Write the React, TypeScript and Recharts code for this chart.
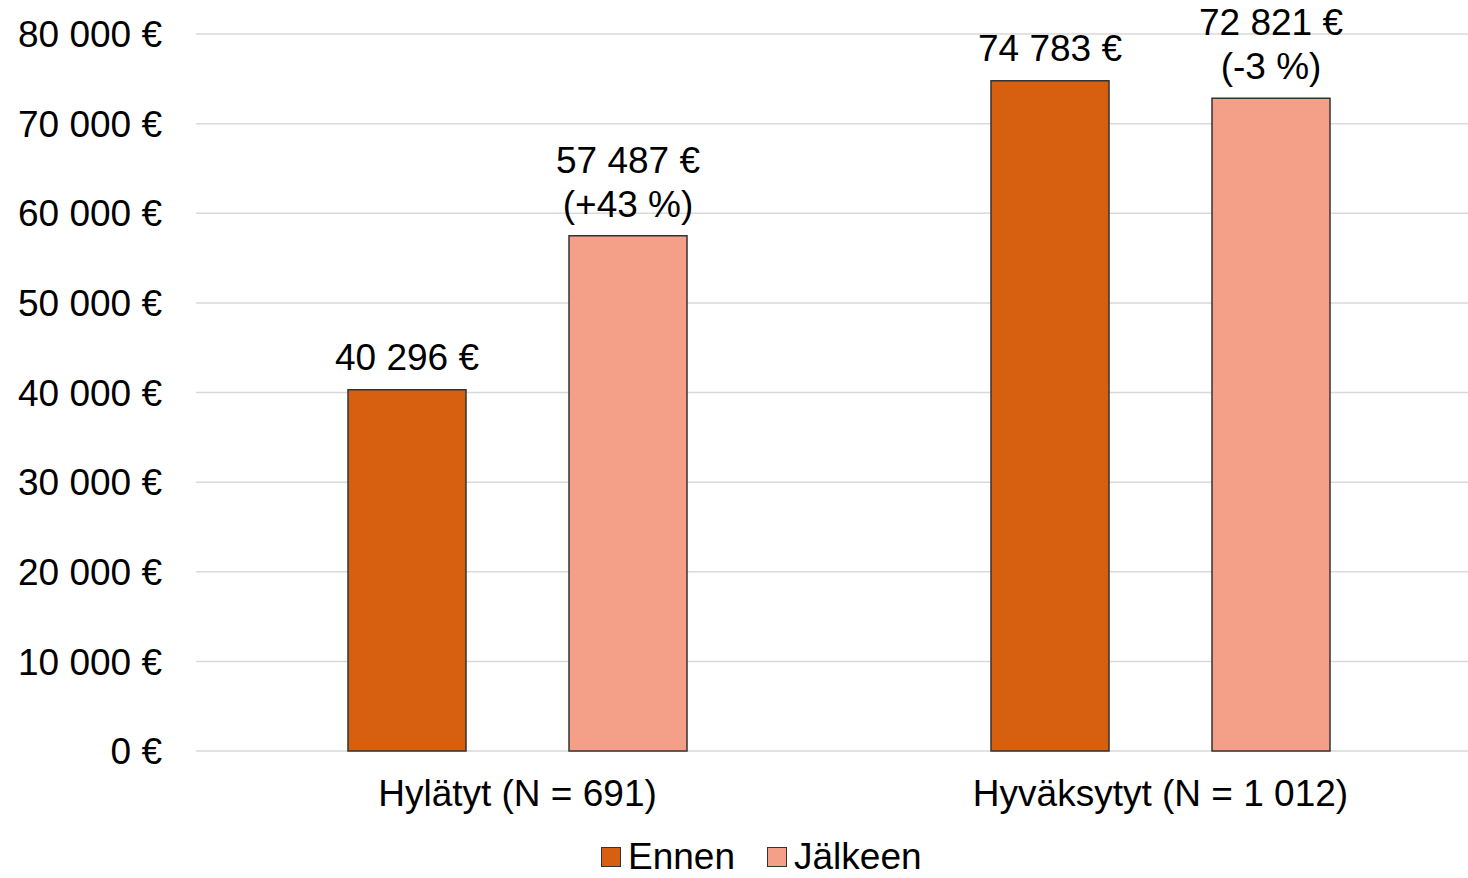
import { BarChart, Bar, XAxis, YAxis, CartesianGrid, LabelList } from 'recharts'

const categories = ['Hylätyt (N = 691)', 'Hyväksytyt (N = 1 012)']
const ennen = [40296, 74783]
const jalkeen = [57487, 72821]
const muutos = ['(+43 %)', '(-3 %)']
const yTicks = [0, 10000, 20000, 30000, 40000, 50000, 60000, 70000, 80000]

const SERIES = [
  { key: 'Ennen', color: '#d65f10' },
  { key: 'Jälkeen', color: '#f4a088' },
] as const

const data = categories.map((name, i) => ({
  name,
  Ennen: ennen[i],
  Jälkeen: jalkeen[i],
  muutos: muutos[i],
}))

const FONT = 'Liberation Sans, Arial, sans-serif'
const FS = 37

const euro = (v: number) =>
  `${v.toLocaleString('en-US').replace(/,/g, ' ')} €`

function ValueLabel(props: any) {
  const { x, y, width, value, index, withChange } = props
  const cx = x + width / 2
  if (withChange) {
    return (
      <text x={cx} textAnchor="middle" fontSize={FS} fill="#000" fontFamily={FONT}>
        <tspan x={cx} y={y - 63}>{euro(value)}</tspan>
        <tspan x={cx} y={y - 19}>{data[index].muutos}</tspan>
      </text>
    )
  }
  return (
    <text x={cx} y={y - 20} textAnchor="middle" fontSize={FS} fill="#000" fontFamily={FONT}>
      {euro(value)}
    </text>
  )
}

export default function App() {
  return (
    <div style={{ position: 'absolute', left: 0, top: 0, width: 1468, height: 878, overflow: 'hidden', background: '#fff', fontFamily: FONT }}>
      <BarChart
        width={1482}
        height={878}
        data={data}
        margin={{ top: 34, right: 0, left: 0, bottom: 97 }}
        barGap={103}
        barSize={118}
      >
        <CartesianGrid vertical={false} stroke="#d9d9d9" strokeWidth={1.5} />
        <XAxis
          dataKey="name"
          axisLine={false}
          tickLine={false}
          tickSize={0}
          tickMargin={29}
          tick={{ fontSize: FS, fill: '#000', fontFamily: FONT }}
        />
        <YAxis
          width={196}
          domain={[0, 80000]}
          ticks={yTicks}
          axisLine={false}
          tickLine={false}
          tickSize={0}
          tickMargin={34}
          tickFormatter={euro}
          tick={{ fontSize: FS, fill: '#000', fontFamily: FONT }}
        />
        {SERIES.map((s) => (
          <Bar
            key={s.key}
            dataKey={s.key}
            fill={s.color}
            stroke="#333"
            strokeWidth={1.5}
            isAnimationActive={false}
          >
            <LabelList
              dataKey={s.key}
              content={(p: any) => <ValueLabel {...p} withChange={s.key === 'Jälkeen'} />}
            />
          </Bar>
        ))}
      </BarChart>
      <div
        style={{
          position: 'absolute',
          left: 601,
          top: 836,
          height: 42,
          display: 'flex',
          alignItems: 'center',
          fontSize: FS,
          color: '#000',
          lineHeight: '42px',
        }}
      >
        {SERIES.map((s, i) => (
          <div key={s.key} style={{ display: 'flex', alignItems: 'center', marginRight: i === 0 ? 32 : 0 }}>
            <div style={{ width: 18, height: 18, background: s.color, border: '1.5px solid #333', marginRight: 7 }} />
            <span>{s.key}</span>
          </div>
        ))}
      </div>
    </div>
  )
}
